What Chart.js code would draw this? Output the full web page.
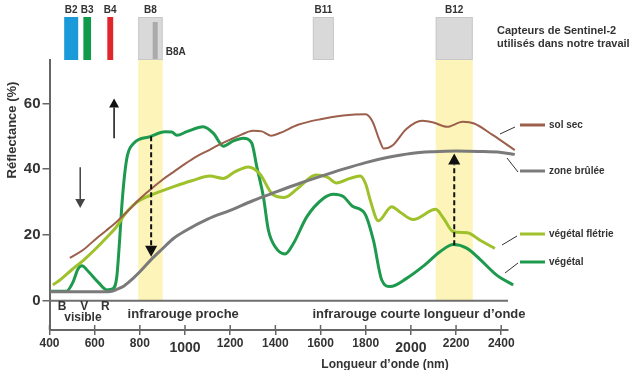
<!DOCTYPE html>
<html lang="fr">
<head>
<meta charset="utf-8">
<script src="https://cdn.jsdelivr.net/npm/chart.js@4.4.1/dist/chart.umd.min.js"></script>
<style>
  html, body { margin: 0; padding: 0; background: #fff; }
</style>
</head>
<body>
<canvas id="chart" width="632" height="370"></canvas>
<script>
// Longueur d'onde (nm) et réflectance (%)
const solSecNm = [490, 550, 600, 650, 700, 750, 800, 850, 900, 950, 1000, 1050, 1100, 1150, 1200, 1250, 1300, 1340, 1380, 1420, 1500, 1600, 1700, 1800, 1830, 1860, 1880, 1920, 1980, 2050, 2100, 2160, 2230, 2280, 2360, 2460];
const solSec = [13, 15.5, 18.5, 21.3, 24.2, 27.5, 31, 34, 36.8, 39.2, 41.6, 43.8, 45.6, 47.4, 49, 50.5, 51.7, 51.5, 50.2, 51, 53.5, 55.2, 56.3, 56.7, 54.5, 49, 46.3, 47.3, 52.2, 54.7, 54.2, 52.9, 54.4, 53.9, 50.5, 45.8];

const zoneNm = [403, 500, 600, 670, 700, 730, 770, 800, 850, 900, 950, 1000, 1100, 1200, 1300, 1400, 1500, 1600, 1700, 1800, 1900, 2000, 2100, 2200, 2300, 2400, 2460];
const zoneBrulee = [2.7, 2.7, 2.7, 2.8, 3.5, 4.5, 6.8, 8.8, 12.5, 15.8, 19, 21.2, 24.8, 27.5, 30.4, 33, 35.5, 37.8, 40, 42, 43.6, 44.8, 45.3, 45.5, 45.4, 45.1, 44.5];

const fletrieNm = [415, 450, 500, 550, 600, 650, 700, 730, 770, 800, 860, 950, 1030, 1110, 1170, 1220, 1280, 1330, 1390, 1440, 1500, 1580, 1630, 1670, 1730, 1775, 1800, 1820, 1856, 1915, 1951, 2010, 2110, 2145, 2188, 2250, 2306, 2372];
const vegFletrie = [4.8, 6.5, 9.5, 12.3, 15.5, 19, 22.8, 26, 29, 30.6, 32.4, 34.7, 36.5, 37.9, 37.2, 39.2, 40.7, 38.7, 32.2, 31.4, 34.2, 38.2, 37.6, 35.8, 37.2, 37.9, 35.5, 30.6, 24.3, 28.6, 27, 24.7, 27.8, 25, 21, 20.7, 18.4, 15.9];

const vegNm = [403, 475, 505, 525, 543, 573, 617, 654, 680, 698, 710, 720, 732, 745, 772, 846, 912, 941, 964, 1008, 1081, 1126, 1170, 1214, 1258, 1295, 1318, 1347, 1369, 1399, 1443, 1480, 1539, 1612, 1657, 1701, 1740, 1797, 1834, 1871, 1908, 1981, 2055, 2129, 2188, 2247, 2306, 2380, 2453];
const vegetal = [2.9, 2.9, 5.8, 9.5, 10.6, 8.8, 5.5, 3.3, 3.6, 7.3, 18, 28.6, 38, 44.2, 47.8, 49.9, 51.4, 51.3, 50.3, 51.4, 52.9, 50.9, 47, 48.6, 49.4, 48, 40.7, 31.6, 21.5, 16.4, 14.2, 17.4, 25.5, 31.1, 32.4, 31.7, 28.8, 26.4, 18.4, 6.3, 4.3, 6.8, 10.5, 14.9, 17.1, 16, 12.6, 7.8, 4.8];

const xTicks = [400, 600, 800, 1000, 1200, 1400, 1600, 1800, 2000, 2200, 2400];
const bigTicks = [1000, 2000];
const yTicks = [0, 20, 40, 60];

// Bandes Sentinel-2 (nm)
const bandNames = ['B2', 'B3', 'B4', 'B8', 'B11', 'B12'];
const bandStart = [465, 550, 656, 793, 1566, 2110];
const bandEnd = [527, 584, 682, 901, 1659, 2274];
const yellowBands = ['B8', 'B12'];
const b8aRange = [857, 879];

// Flèches : longueur d'onde, départ, arrivée (%)
const arrowNm = [686, 536, 850, 2192];
const arrowFrom = [49.4, 40.6, 50, 16.9];
const arrowTo = [61.5, 28.2, 13.4, 44.8];

const FONT = "'Liberation Sans', Arial, sans-serif";
const colors = { sol: '#9b5f4b', zone: '#7a7a7a', fletrie: '#9ec12c', veg: '#1e9a4e' };
const bandColors = ['#1a9ad9', '#0f9a4c', '#e1262b', '#d9d9d9', '#d9d9d9', '#d9d9d9'];

function pts(xs, ys) {
    return xs.map((v, i) => ({ x: v, y: ys[i] }));
}

function arrow(ctx, x0, y0, x1, y1, color, width, dashed, head) {
    const dir = y1 < y0 ? -1 : 1;
    ctx.save();
    ctx.strokeStyle = color;
    ctx.fillStyle = color;
    ctx.lineWidth = width;
    if (dashed) ctx.setLineDash([5, 3]);
    ctx.beginPath();
    ctx.moveTo(x0, y0);
    ctx.lineTo(x1, y1 - dir * head);
    ctx.stroke();
    ctx.setLineDash([]);
    ctx.beginPath();
    ctx.moveTo(x1, y1);
    ctx.lineTo(x1 - head * 0.55, y1 - dir * head);
    ctx.lineTo(x1 + head * 0.55, y1 - dir * head);
    ctx.closePath();
    ctx.fill();
    ctx.restore();
}

const decor = {
    id: 'decor',
    beforeDatasetsDraw(chart) {
        const { ctx, chartArea: a, scales: { x, y } } = chart;
        ctx.save();
        // bandes jaunes B8 et B12
        ctx.fillStyle = 'rgb(252,244,184)';
        yellowBands.forEach(name => {
            const i = bandNames.indexOf(name);
            const x0 = x.getPixelForValue(bandStart[i]);
            const x1 = x.getPixelForValue(bandEnd[i]);
            ctx.fillRect(x0, a.top, x1 - x0, y.getPixelForValue(0) - a.top);
        });
        // ligne du zéro
        ctx.strokeStyle = '#6f6f6f';
        ctx.lineWidth = 2;
        ctx.beginPath();
        ctx.moveTo(a.left, y.getPixelForValue(0));
        ctx.lineTo(a.right, y.getPixelForValue(0));
        ctx.stroke();
        ctx.restore();
    },
    afterDatasetsDraw(chart) {
        const { ctx, scales: { x, y } } = chart;
        const styles = [['#111', 1.5, false, 9], ['#444', 1.5, false, 9], ['#111', 2, true, 11], ['#111', 2, true, 11]];
        arrowNm.forEach((nm, i) => {
            const px = x.getPixelForValue(nm);
            const s = styles[i];
            arrow(ctx, px, y.getPixelForValue(arrowFrom[i]), px, y.getPixelForValue(arrowTo[i]), s[0], s[1], s[2], s[3]);
        });
    },
    afterDraw(chart) {
        const { ctx, chartArea: a, scales: { x, y } } = chart;
        ctx.save();

        // capteurs en haut
        const boxTop = a.top - 43;
        bandNames.forEach((name, i) => {
            const x0 = x.getPixelForValue(bandStart[i]);
            const x1 = x.getPixelForValue(bandEnd[i]);
            ctx.fillStyle = bandColors[i];
            ctx.fillRect(x0, boxTop, x1 - x0, a.top - boxTop);
            if (i >= 3) {
                ctx.strokeStyle = '#c8c8c8';
                ctx.lineWidth = 1;
                ctx.strokeRect(x0 + 0.5, boxTop + 0.5, x1 - x0 - 1, a.top - boxTop - 1);
            }
            ctx.fillStyle = '#333';
            ctx.font = `bold 10px ${FONT}`;
            ctx.textAlign = 'center';
            ctx.textBaseline = 'middle';
            ctx.fillText(name, (x0 + x1) / 2, boxTop - 7);
        });
        const s0 = x.getPixelForValue(b8aRange[0]);
        const s1 = x.getPixelForValue(b8aRange[1]);
        ctx.fillStyle = '#ababab';
        ctx.fillRect(s0, boxTop + 5, s1 - s0, a.top - boxTop - 6);
        ctx.fillStyle = '#333';
        ctx.textAlign = 'left';
        ctx.fillText('B8A', x.getPixelForValue(bandEnd[3]) + 3, a.top - 8);

        ctx.font = `bold 11px ${FONT}`;
        ctx.fillText('Capteurs de Sentinel-2', 497, 31);
        ctx.fillText('utilisés dans notre travail', 497, 44);

        // graduations au-dessus de l'axe du bas
        ctx.strokeStyle = '#666';
        ctx.lineWidth = 1.5;
        x.ticks.forEach(t => {
            const px = x.getPixelForValue(t.value);
            ctx.beginPath();
            ctx.moveTo(px, a.bottom - 5);
            ctx.lineTo(px, a.bottom);
            ctx.stroke();
        });

        // régions du spectre
        ctx.fillStyle = '#333';
        ctx.textAlign = 'center';
        ctx.font = `bold 12px ${FONT}`;
        [['B', 456], ['V', 554], ['R', 647]].forEach(([t, nm]) => ctx.fillText(t, x.getPixelForValue(nm), a.bottom - 23));
        ctx.fillText('visible', x.getPixelForValue(548), a.bottom - 12);
        ctx.font = `bold 13px ${FONT}`;
        ctx.fillText('infrarouge proche', x.getPixelForValue(992), a.bottom - 16);
        ctx.fillText('infrarouge courte longueur d\u2019onde', x.getPixelForValue(2036), a.bottom - 16);

        // titres des axes
        ctx.font = `bold 12px ${FONT}`;
        ctx.fillText('Longueur d\u2019onde (nm)', 385, 365);
        ctx.save();
        ctx.translate(12, 130);
        ctx.rotate(-Math.PI / 2);
        ctx.font = `bold 13px ${FONT}`;
        ctx.fillText('Réflectance (%)', 0, 0);
        ctx.restore();

        // légende à droite
        const legY = [125, 171, 234, 262];
        const links = [[-20, 9, -5, 2], [-13, -13, -2, 1], [-18, 11, -3, 2], [-15, 11, -2, 1]];
        ctx.textAlign = 'left';
        ctx.font = `bold 10px ${FONT}`;
        chart.data.datasets.forEach((ds, i) => {
            const ly = legY[ds.legendOrder];
            const l = links[ds.legendOrder];
            ctx.strokeStyle = '#333';
            ctx.lineWidth = 1;
            ctx.beginPath();
            ctx.moveTo(520 + l[0], ly + l[1]);
            ctx.lineTo(520 + l[2], ly + l[3]);
            ctx.stroke();
            ctx.strokeStyle = ds.borderColor;
            ctx.lineWidth = 3;
            ctx.beginPath();
            ctx.moveTo(520, ly);
            ctx.lineTo(545, ly);
            ctx.stroke();
            ctx.fillStyle = '#333';
            ctx.fillText(ds.label, 549, ly);
        });
        ctx.restore();
    }
};

const line = (label, data, color, width, order) => ({
    label: label,
    data: data,
    borderColor: color,
    borderWidth: width,
    pointRadius: 0,
    cubicInterpolationMode: 'monotone',
    clip: false,
    legendOrder: order
});

new Chart(document.getElementById('chart'), {
    type: 'line',
    data: {
        datasets: [
            line('zone brûlée', pts(zoneNm, zoneBrulee), colors.zone, 3, 1),
            line('sol sec', pts(solSecNm, solSec), colors.sol, 2, 0),
            line('végétal flétrie', pts(fletrieNm, vegFletrie), colors.fletrie, 3, 2),
            line('végétal', pts(vegNm, vegetal), colors.veg, 3, 3)
        ]
    },
    options: {
        responsive: false,
        animation: false,
        devicePixelRatio: 1,
        layout: { padding: { top: 60, right: 124, left: 0, bottom: 0 } },
        plugins: { legend: { display: false }, tooltip: { enabled: false } },
        scales: {
            x: {
                type: 'linear',
                min: 400,
                max: 2430,
                afterBuildTicks: s => { s.ticks = xTicks.map(v => ({ value: v })); },
                afterFit: s => { s.height = 40; },
                grid: { drawOnChartArea: false, tickLength: 5, color: '#666', lineWidth: 1.5 },
                border: { color: '#666', width: 2 },
                ticks: {
                    autoSkip: false,
                    maxRotation: 0,
                    padding: 1,
                    color: '#333',
                    callback: v => v,
                    font: c => {
                        const big = c.tick && bigTicks.includes(c.tick.value);
                        return { family: FONT, weight: 'bold', size: big ? 14 : 12, lineHeight: big ? 1.71 : 1.2 };
                    }
                }
            },
            y: {
                min: -8.9,
                max: 73.2,
                afterBuildTicks: s => { s.ticks = yTicks.map(v => ({ value: v })); },
                afterFit: s => { s.width = 49.5; },
                grid: { drawOnChartArea: false, tickLength: 7, color: '#666', lineWidth: 1.5 },
                border: { color: '#666', width: 2 },
                ticks: { padding: 2, color: '#333', font: { family: FONT, weight: 'bold', size: 15 } }
            }
        }
    },
    plugins: [decor]
});
</script>
</body>
</html>
